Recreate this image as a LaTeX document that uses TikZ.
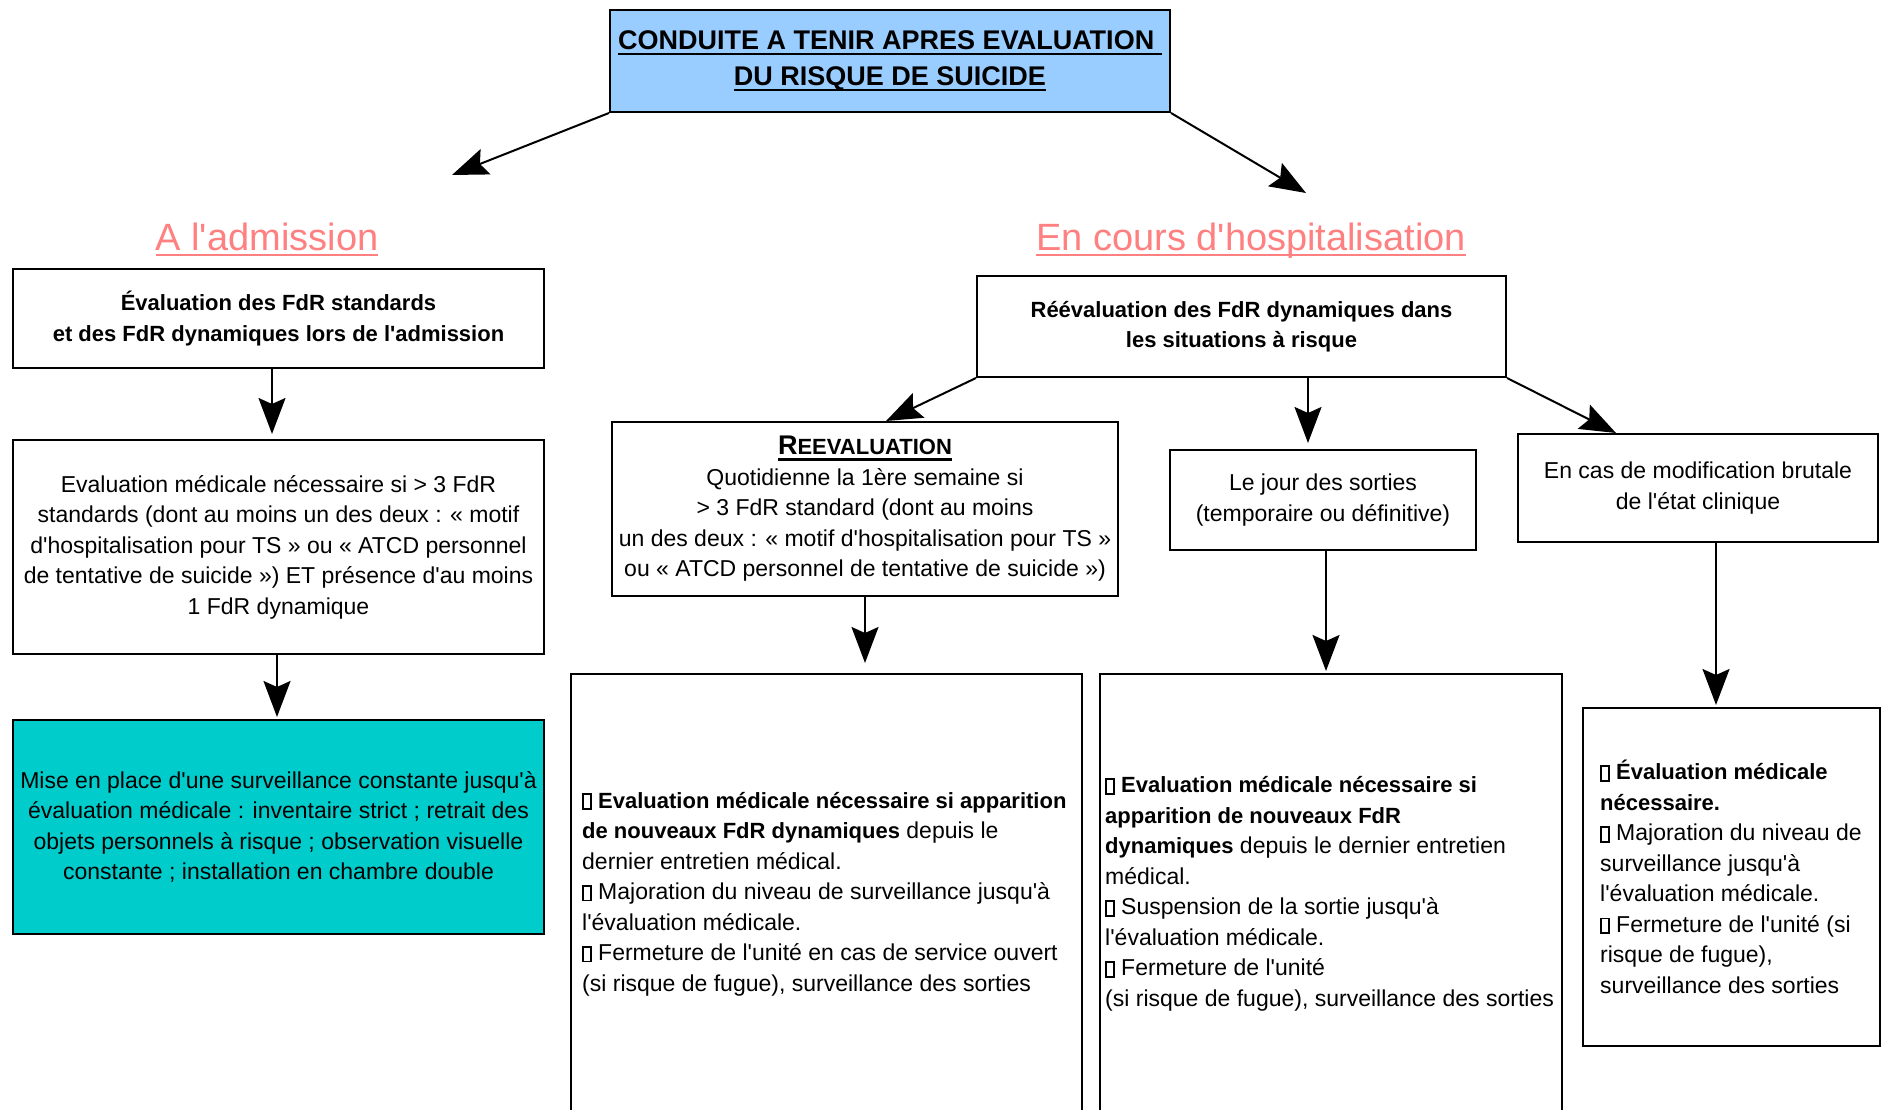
\documentclass[tikz,border=0pt]{standalone}
\usepackage{fontspec}
\setmainfont{Liberation Sans}
\usetikzlibrary{arrows.meta,calc}
\definecolor{titlebl}{HTML}{99CCFF}
\definecolor{salmon}{HTML}{FF8080}
\definecolor{tealbox}{HTML}{00CCCC}
\newcommand\ap{\textquotesingle}
\newcommand\nd{\mbox{\fboxsep=0pt\fboxrule=1.8pt\fbox{\rule{0pt}{13pt}\rule{6pt}{0pt}}}}
\newcommand\bt[1]{{\fontsize{22}{30.5}\selectfont\bfseries #1}}
\newsavebox\myulbox
\newcommand\uln[1]{\leavevmode\sbox\myulbox{#1}\rlap{\rule[-6pt]{\wd\myulbox}{2.5pt}}\usebox\myulbox}
\begin{document}
\begin{tikzpicture}[x=1pt,y=-1pt,
  box/.style={draw, line width=2pt, inner sep=3pt, align=center, font=\fontsize{23}{30.5}\selectfont},
  boldbox/.style={box, font=\fontsize{22}{30.5}\selectfont\bfseries},
  txt/.style={anchor=west, align=left, inner sep=0pt, font=\fontsize{23}{30.5}\selectfont},
  arr/.style={line width=2pt, -{Stealth[length=36pt,width=27pt,inset=6pt]}},
  head/.style={anchor=base, text=salmon, font=\fontsize{38}{45}\selectfont, inner sep=0pt}]
\useasboundingbox (0,0) rectangle (1881,1110);
\fill[white] (0,0) rectangle (1881,1110);
\clip (0,0) rectangle (1881,1110);

\node[box, fill=titlebl, minimum width=560pt, minimum height=102pt, font=\fontsize{27}{36}\selectfont\bfseries] (title) at (890,61)
  {\uln{CONDUITE A TENIR APRES EVALUATION~}\\\uln{DU RISQUE DE SUICIDE}};

\node[head] (hadm) at (267,250) {\uln{A l\ap admission}};
\node[head] (hhosp) at (1251,250) {\uln{En cours d\ap hospitalisation}};

\node[boldbox, minimum width=531pt, minimum height=99pt] (adm1) at (278.5,318.5)
  {Évaluation des FdR standards\\et des FdR dynamiques lors de l\ap admission};
\node[box, minimum width=531pt, minimum height=214pt] (adm2) at (278.5,547)
  {Evaluation médicale nécessaire si >~3 FdR\\standards (dont au moins un des deux~: «~motif\\d\ap hospitalisation pour TS~» ou «~ATCD personnel\\de tentative de suicide~») ET présence d\ap au moins\\1 FdR dynamique};
\node[box, fill=tealbox, minimum width=531pt, minimum height=214pt] (adm3) at (278.5,827)
  {Mise en place d\ap une surveillance constante jusqu\ap à\\évaluation médicale~: inventaire strict~; retrait des\\objets personnels à risque~; observation visuelle\\constante~; installation en chambre double};

\node[boldbox, minimum width=529pt, minimum height=101pt] (hosp1) at (1241.5,326.5)
  {Réévaluation des FdR dynamiques dans\\les situations à risque};
\node[box, minimum width=506pt, minimum height=174pt] (reeval) at (865,509)
  {{\bfseries\fontsize{27}{30.5}\selectfont\uln{R{\fontsize{22}{30.5}\selectfont EEVALUATION}}}\\Quotidienne la 1ère semaine si\\>~3 FdR standard (dont au moins\\un des deux~: «~motif d\ap hospitalisation pour TS~»\\ou «~ATCD personnel de tentative de suicide~»)};
\node[box, minimum width=306pt, minimum height=100pt] (jour) at (1323,500)
  {Le jour des sorties\\(temporaire ou définitive)};
\node[box, minimum width=360pt, minimum height=108pt] (brutal) at (1698,488)
  {En cas de modification brutale\\de l\ap état clinique};

\node[box, minimum width=511pt, minimum height=440pt] (act1) at (826.5,894) {};
\node[txt] (act1t) at (582,894)
  {\nd\ \bt{Evaluation médicale nécessaire si apparition}\\\bt{de nouveaux FdR dynamiques} depuis le\\dernier entretien médical.\\\nd\ Majoration du niveau de surveillance jusqu\ap à\\l\ap évaluation médicale.\\\nd\ Fermeture de l\ap unité en cas de service ouvert\\(si risque de fugue), surveillance des sorties};

\node[box, minimum width=462pt, minimum height=440pt] (act2) at (1331,894) {};
\node[txt] (act2t) at (1105,894)
  {\nd\ \bt{Evaluation médicale nécessaire si}\\\bt{apparition de nouveaux FdR}\\\bt{dynamiques} depuis le dernier entretien\\médical.\\\nd\ Suspension de la sortie jusqu\ap à\\l\ap évaluation médicale.\\\nd\ Fermeture de l\ap unité\\(si risque de fugue), surveillance des sorties};

\node[box, minimum width=297pt, minimum height=338pt] (act3) at (1731.5,877) {};
\node[txt] (act3t) at (1600,877)
  {\nd\ \bt{Évaluation médicale}\\\bt{nécessaire.}\\\nd\ Majoration du niveau de\\surveillance jusqu\ap à\\l\ap évaluation médicale.\\\nd\ Fermeture de l\ap unité (si\\risque de fugue),\\surveillance des sorties};

\coordinate (ladm) at (452,175);
\coordinate (lhosp) at (1306,193);
\coordinate (xa) at (272,0);
\coordinate (xb) at (277,0);
\coordinate (xm) at (1308,0);
\coordinate (xj) at (1326,0);
\coordinate (xr) at (1716,0);

\draw[arr] (title.south west) -- (ladm);
\draw[arr] (title.south east) -- (lhosp);
\draw[arr, shorten >=5pt] (adm1.south -| xa) -- (adm2.north -| xa);
\draw[arr, shorten >=2pt] (adm2.south -| xb) -- (adm3.north -| xb);
\draw[arr] (hosp1.south west) -- ([xshift=21pt]reeval.north);
\draw[arr, shorten >=6pt] (hosp1.south -| xm) -- (jour.north -| xm);
\draw[arr] (hosp1.south east) -- ([xshift=-82pt]brutal.north);
\draw[arr, shorten >=10pt] (reeval.south) -- (act1.north -| reeval.south);
\draw[arr, shorten >=2pt] (jour.south -| xj) -- (act2.north -| xj);
\draw[arr, shorten >=2pt] (brutal.south -| xr) -- (act3.north -| xr);
\end{tikzpicture}
\end{document}
